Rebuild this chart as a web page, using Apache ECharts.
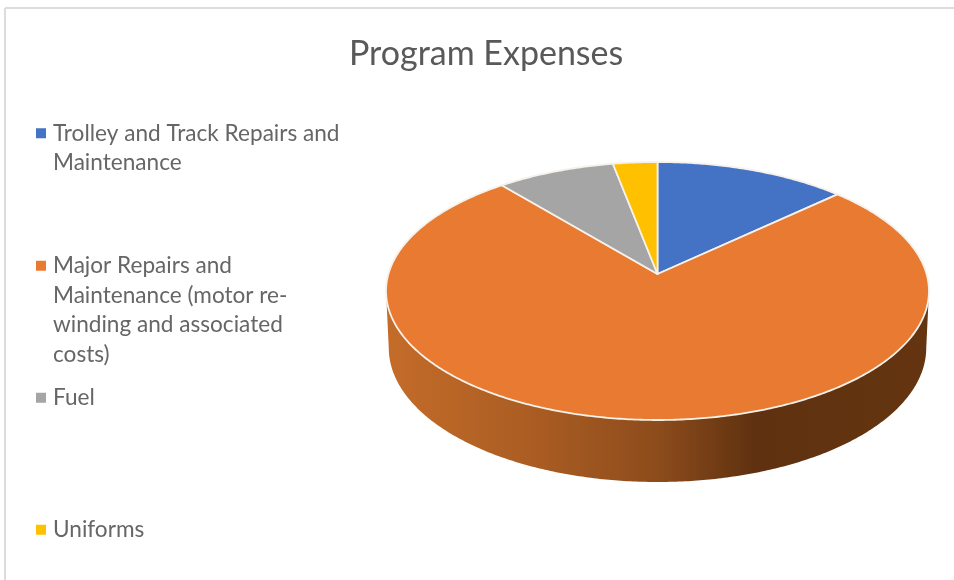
<!DOCTYPE html>
<html>
<head>
<meta charset="utf-8">
<style>html,body{margin:0;padding:0;background:#fff}#c{width:954px;height:580px}</style>
<script src="https://cdn.jsdelivr.net/npm/echarts@6/dist/echarts.min.js"></script>
</head>
<body>
<div id="c"></div>
<script>
var categories = [
  'Trolley and Track Repairs and\nMaintenance',
  'Major Repairs and\nMaintenance (motor re-\nwinding and associated\ncosts)',
  'Fuel',
  'Uniforms'
];
var values = [13, 76, 8, 3];
var colors = ['#4472c4', '#e87b31', '#a5a5a5', '#ffc000'];
var legendTops = [118.5, 251, 383, 515];
var legendLines = [2, 4, 1, 1];

var total = values.reduce(function (s, v) { return s + v; }, 0);
var LINE = 29.5;

// perspective view of the disc
var cx = 657.5, y0 = 274, a = 269.1, b = 126.76, k = 0.1318;
function topRim(t) {
  var s = Math.sin(t), c = Math.cos(t), d = 1 + k * c;
  return [cx + a * s / d, y0 - b * c / d];
}
function bottomRim(t) {
  var p = topRim(t), c = Math.cos(t);
  return [cx + (p[0] - cx) * 0.99, p[1] + 56 - c * 6];
}
var silhouetteA = Math.acos(-k), silhouetteB = 2 * Math.PI - silhouetteA;

function arcPoints(fn, t0, t1) {
  var pts = [], n = Math.max(2, Math.ceil((t1 - t0) / 0.01));
  for (var i = 0; i <= n; i++) pts.push(fn(t0 + (t1 - t0) * i / n));
  return pts;
}

function makeRender(index) {
  return function () {
    var before = values.slice(0, index).reduce(function (s, v) { return s + v; }, 0);
    var t0 = before / total * 2 * Math.PI;
    var t1 = (before + values[index]) / total * 2 * Math.PI;
    var children = [];
    var w0 = Math.max(t0, silhouetteA), w1 = Math.min(t1, silhouetteB);
    if (w1 > w0) {
      var wall = arcPoints(topRim, w0, w1).concat(arcPoints(bottomRim, w0, w1).reverse());
      children.push({
        type: 'polygon',
        shape: { points: wall },
        style: {
          fill: new echarts.graphic.LinearGradient(0, 0, 1, 0, [
            { offset: 0, color: '#c46c2a' },
            { offset: 0.28, color: '#a95c22' },
            { offset: 0.5, color: '#8d4c1c' },
            { offset: 0.68, color: '#5f3110' },
            { offset: 1, color: '#64350f' }
          ]),
          stroke: null
        }
      });
    }
    var face = [[cx, y0]].concat(arcPoints(topRim, t0, t1));
    children.push({
      type: 'polygon',
      shape: { points: face },
      style: { fill: colors[index], stroke: '#f6f1ea', lineWidth: 1.8, lineJoin: 'round' }
    });
    return { type: 'group', children: children };
  };
}

var series = categories.map(function (name, i) {
  return {
    type: 'custom',
    name: name,
    coordinateSystem: 'none',
    silent: true,
    itemStyle: { color: colors[i] },
    renderItem: makeRender(i),
    data: [values[i]]
  };
});

var legends = categories.map(function (name, i) {
  var h = LINE * legendLines[i];
  // square sits on the first text line, the rest of the icon box is empty
  var unit = 100 / h;
  var sq = 10 * unit, off = (LINE - 10) / 2 * unit;
  var icon = 'path://M0 0h0M0 ' + off + 'H10V' + (off + sq) + 'H0ZM0 100h0';
  return {
    left: 36,
    top: legendTops[i],
    orient: 'vertical',
    selectedMode: false,
    symbolKeepAspect: false,
    data: [{ name: name, icon: icon }],
    itemWidth: 10,
    itemHeight: h,
    itemGap: 0,
    padding: 0,
    textStyle: {
      fontFamily: 'Lato',
      fontSize: 22.6,
      lineHeight: LINE,
      color: '#666666',
      padding: [0, 0, 0, 2]
    }
  };
});

var chart = echarts.init(document.getElementById('c'), null, { renderer: 'canvas' });
chart.setOption({
  animation: false,
  backgroundColor: '#ffffff',
  title: {
    text: 'Program Expenses',
    left: 349,
    top: 37,
    padding: 0,
    textStyle: { fontFamily: 'Lato', fontSize: 34, fontWeight: 'normal', color: '#595959' }
  },
  legend: legends,
  series: series,
  graphic: [
    { type: 'line', silent: true, shape: { x1: 5, y1: 8, x2: 954, y2: 8 }, style: { stroke: '#dcdcdc', lineWidth: 2 } },
    { type: 'line', silent: true, shape: { x1: 5, y1: 8, x2: 5, y2: 580 }, style: { stroke: '#dcdcdc', lineWidth: 2 } }
  ]
});
</script>
</body>
</html>
